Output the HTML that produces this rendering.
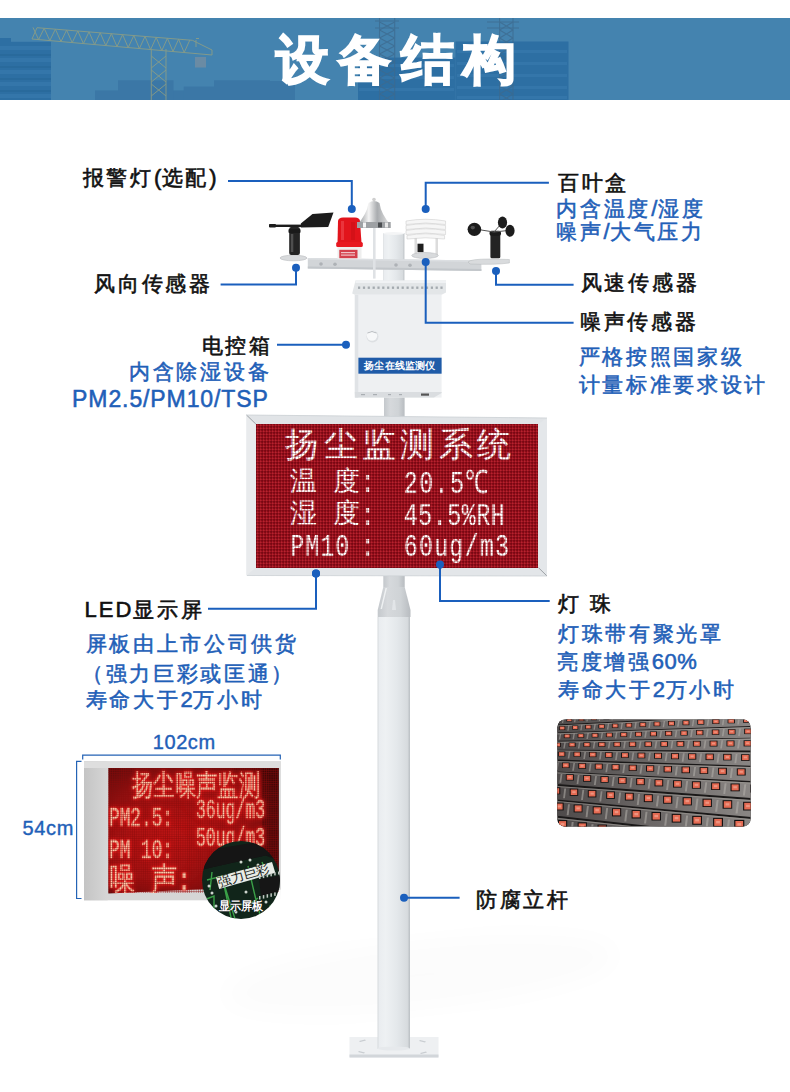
<!DOCTYPE html>
<html><head><meta charset="utf-8">
<style>
html,body{margin:0;padding:0;background:#fff;}
body{width:790px;height:1092px;position:relative;overflow:hidden;font-family:"Liberation Sans",sans-serif;}
.t{position:absolute;white-space:nowrap;font-size:21px;letter-spacing:2.7px;line-height:28px;color:#111;-webkit-text-stroke:0.6px #111;}
.t.b{color:#1f60b8;-webkit-text-stroke:0.55px #1f60b8;}
.t .p{font-size:22px;letter-spacing:0.5px;}
svg.main{position:absolute;left:0;top:0;}
.led{position:absolute;white-space:nowrap;color:#fff2f2;font-family:"Liberation Mono",monospace;}
.led{color:#fff;text-shadow:0 0 1.2px rgba(255,120,120,0.8);}
.led.cj{font-size:27px;line-height:30px;}
.led.mo{font-size:23.3px;line-height:30px;white-space:pre;transform:scaleY(1.38);transform-origin:0 50%;}

</style></head>
<body>
<svg class="main" width="790" height="1092" viewBox="0 0 790 1092">
<defs>
<linearGradient id="poleG" x1="0" x2="1" y1="0" y2="0">
 <stop offset="0" stop-color="#d6dadd"/><stop offset="0.06" stop-color="#eaedf0"/>
 <stop offset="0.25" stop-color="#eef1f3"/><stop offset="0.6" stop-color="#e4e8eb"/>
 <stop offset="0.92" stop-color="#d7dbde"/><stop offset="1" stop-color="#b9bec2"/></linearGradient>
<linearGradient id="poleD" x1="0" x2="1">
 <stop offset="0" stop-color="#c4c8cc"/><stop offset="0.3" stop-color="#d6d9dc"/><stop offset="0.7" stop-color="#cfd3d6"/><stop offset="1" stop-color="#b8bcc0"/></linearGradient>
<linearGradient id="silver" x1="0" x2="1">
 <stop offset="0" stop-color="#8a8d90"/><stop offset="0.35" stop-color="#f4f4f4"/>
 <stop offset="0.6" stop-color="#a9acaf"/><stop offset="1" stop-color="#e8e8e8"/></linearGradient>
<linearGradient id="bannerG" x1="0" x2="1">
 <stop offset="0" stop-color="#4682b3"/><stop offset="1" stop-color="#4b87b7"/></linearGradient>
<linearGradient id="macroG" x1="0" x2="1">
 <stop offset="0" stop-color="#4e4a4a"/><stop offset="1" stop-color="#8a8684"/></linearGradient>
<radialGradient id="smallRed" cx="0.4" cy="0.5" r="0.7">
 <stop offset="0" stop-color="#b81414"/><stop offset="0.6" stop-color="#901010"/><stop offset="1" stop-color="#4a0808"/></radialGradient>
<linearGradient id="sideG" x1="0" x2="1">
 <stop offset="0" stop-color="#c4c4c4"/><stop offset="1" stop-color="#d6d6d6"/></linearGradient>
<pattern id="gridS" width="2.2" height="2.2" patternUnits="userSpaceOnUse"><rect width="2.2" height="0.7" fill="#8a0a0a" opacity="0.5"/><rect width="0.7" height="2.2" fill="#8a0a0a" opacity="0.5"/></pattern>
<filter id="blur4"><feGaussianBlur stdDeviation="14"/></filter>
<clipPath id="clipM"><rect x="557.3" y="719.4" width="193.4" height="107.2" rx="8"/></clipPath>
<clipPath id="clipS"><rect x="108.4" y="768" width="170.5" height="125"/></clipPath>
<clipPath id="clipC"><circle cx="241" cy="880" r="39"/></clipPath>
</defs>
<clipPath id="clipB"><rect x="0" y="18" width="790" height="82"/></clipPath>
<g clip-path="url(#clipB)">
<rect x="0" y="18" width="790" height="82" fill="#4483af"/>
<g fill="#3b77a6">
<rect x="95" y="90.4" width="195" height="9.6"/>
<rect x="118" y="80.3" width="55.5" height="20"/>
<rect x="183.7" y="86.6" width="33" height="14"/>
<rect x="214" y="80.3" width="56" height="20"/>
<rect x="250" y="81" width="45" height="19"/>
</g>
<g fill="#2d6fa3">
<rect x="0" y="41.8" width="51" height="58.2"/>
<rect x="0" y="38" width="11" height="4"/>
<rect x="358" y="57.6" width="97.5" height="42.4"/>
<rect x="455.5" y="41.5" width="113" height="58.5"/>
</g>
<g fill="#3a7bb0" opacity="0.6">
<rect x="0" y="46" width="51" height="4"/>
<rect x="0" y="58" width="51" height="4"/>
<rect x="0" y="70" width="51" height="4"/>
<rect x="0" y="82" width="51" height="4"/>
<rect x="0" y="94" width="51" height="4"/>
<rect x="457" y="50" width="110" height="3"/>
<rect x="457" y="62" width="110" height="3"/>
<rect x="457" y="74" width="110" height="3"/>
<rect x="457" y="86" width="110" height="3"/>
<rect x="457" y="96" width="110" height="3"/>
<rect x="359" y="64" width="95" height="3"/>
<rect x="359" y="76" width="95" height="3"/>
<rect x="359" y="88" width="95" height="3"/>
</g>
<g fill="#2766999a">
<rect x="0" y="54" width="51" height="2"/>
<rect x="0" y="66" width="51" height="2"/>
<rect x="0" y="78" width="51" height="2"/>
<rect x="0" y="90" width="51" height="2"/>
</g>
<g stroke="#98a27e" stroke-width="1" fill="none" opacity="0.75">
<path d="M37 27.7 L192.4 40.3 L212 50 M32 39 L212 55 M37 27.7 L32 39 M212 50 L212 55"/>
<path d="M33.0 27.4 L38.6 39.6 L44.2 28.3 L49.8 40.6 L55.4 29.2 L61.0 41.6 L66.6 30.1 L72.2 42.6 L77.8 31.0 L83.4 43.6 L89.0 31.9 L94.6 44.6 L100.2 32.8 L105.8 45.6 L111.4 33.7 L117.0 46.6 L122.6 34.6 L128.2 47.6 L133.8 35.5 L139.4 48.6 L145.0 36.4 L150.6 49.6 L156.2 37.4 L161.8 50.6 L167.4 38.3 L173.0 51.5 L178.6 39.2 L184.2 52.5 L189.8 40.1"/>
<path d="M151.3 49 V100 M166 49 V100 M151.3 56 L166 68 M166 56 L151.3 68 M151.3 70 L166 82 M166 70 L151.3 82 M151.3 84 L166 96 M166 84 L151.3 96"/>
<path d="M196 40 V47 M196 38.5 H199"/>
</g>
<rect x="195" y="57" width="11" height="10.5" fill="#6f8ca3" opacity="0.9"/>
<g stroke="#3d6a8e" stroke-width="1.1" fill="none" opacity="0.75">
<path d="M379.5 18 V100 M394.7 18 V100"/>
<path d="M379.5 22 L394.7 30 M394.7 22 L379.5 30"/>
<path d="M379.5 30 L394.7 38 M394.7 30 L379.5 38"/>
<path d="M379.5 38 L394.7 46 M394.7 38 L379.5 46"/>
<path d="M379.5 46 L394.7 54 M394.7 46 L379.5 54"/>
<path d="M379.5 54 L394.7 62 M394.7 54 L379.5 62"/>
<path d="M379.5 62 L394.7 70 M394.7 62 L379.5 70"/>
<path d="M379.5 70 L394.7 78 M394.7 70 L379.5 78"/>
<path d="M379.5 78 L394.7 86 M394.7 78 L379.5 86"/>
<path d="M379.5 86 L394.7 94 M394.7 86 L379.5 94"/>
<path d="M379.5 94 L394.7 102 M394.7 94 L379.5 102"/>
<path d="M499.6 18 V100 M513 18 V100"/>
<path d="M499.6 22 L513 30 M513 22 L499.6 30"/>
<path d="M499.6 30 L513 38 M513 30 L499.6 38"/>
<path d="M499.6 38 L513 46 M513 38 L499.6 46"/>
<path d="M499.6 46 L513 54 M513 46 L499.6 54"/>
<path d="M499.6 54 L513 62 M513 54 L499.6 62"/>
<path d="M499.6 62 L513 70 M513 62 L499.6 70"/>
<path d="M499.6 70 L513 78 M513 70 L499.6 78"/>
<path d="M499.6 78 L513 86 M513 78 L499.6 86"/>
<path d="M499.6 86 L513 94 M513 86 L499.6 94"/>
<path d="M499.6 94 L513 102 M513 94 L499.6 102"/>
<path d="M375 21 H399 M375 28 H399 M487 22 H519 M487 28 H519"/>
</g>
</g>
<ellipse cx="420" cy="975" rx="200" ry="35" fill="#000" opacity="0.012" filter="url(#blur4)" transform="rotate(-6 420 975)"/>
<rect x="349.5" y="1037" width="89" height="20.5" fill="#eef0f2"/>
<rect x="349.5" y="1054.5" width="89" height="3" fill="#d2d6da"/>
<g fill="#c9cdd1"><path d="M359 1041 l6 -1.5 l1 1 l-6 1.5z M420 1040 l6 1.5 l-1 1 l-6 -1.5z M359 1051 l6 1.5 l-1 1 l-6 -1.5z M420 1053 l6 -1.5 l1 1 l-6 1.5z"/></g>
<rect x="377.5" y="617" width="32.5" height="432" fill="url(#poleG)"/>
<ellipse cx="393.7" cy="1048.5" rx="16.2" ry="2" fill="#e6e9ec"/>
<rect x="377.7" y="610" width="32.8" height="7" fill="url(#poleD)"/>
<polygon points="383.3,587 404.7,587 410.5,610 377.7,610" fill="url(#poleD)"/>
<polygon points="385.5,588 387,588 382,609 380.5,609" fill="#f2f4f5" opacity="0.9"/>
<polygon points="393,600 395,600 396,610 392,610" fill="#e6e9eb" opacity="0.8"/>
<rect x="383.3" y="576" width="21.4" height="11" fill="url(#poleD)"/>
<rect x="384" y="397" width="20.6" height="20" fill="url(#poleD)"/>
<rect x="383.2" y="233" width="21.2" height="48" fill="url(#poleG)"/>
<ellipse cx="393.8" cy="233.5" rx="10.6" ry="1.5" fill="#f4f5f6"/>
<polygon points="307.8,258 481.4,260.5 481.4,271 307.8,268.6" fill="#d2d5d8"/>
<polygon points="307.8,258 481.4,260.5 481.4,262 307.8,259.5" fill="#dcdfe2"/>
<polygon points="307.8,266.5 481.4,269 481.4,271 307.8,268.6" fill="#c2c6ca"/>
<circle cx="321" cy="264" r="1.8" fill="#aeb2b6"/><circle cx="335" cy="264.2" r="1.8" fill="#aeb2b6"/>
<circle cx="396" cy="265" r="1.8" fill="#aeb2b6"/><circle cx="410" cy="265.3" r="1.8" fill="#aeb2b6"/>
<ellipse cx="293.5" cy="258" rx="13.5" ry="2.8" fill="#d9dbdd" stroke="#b8bbbe" stroke-width="0.6"/>
<rect x="289.2" y="227" width="10.7" height="28" rx="2" fill="#242424"/>
<rect x="288.5" y="229" width="12" height="4" rx="1" fill="#1a1a1a"/>
<rect x="290.8" y="234" width="2.5" height="18" fill="#4e4e4e"/>
<rect x="269" y="224.6" width="33" height="2.4" fill="#1c1c1c"/>
<rect x="269" y="223.9" width="7" height="3.6" rx="1" fill="#1c1c1c"/>
<polygon points="300.8,223.4 312.5,214 333.5,212.6 328.2,227 300.8,227.5" fill="#1c1c1c"/>
<rect x="337.5" y="246.5" width="24" height="12.5" fill="#eeeeee"/>
<rect x="339.3" y="249.8" width="18.2" height="8.4" fill="#d4404c"/>
<rect x="341" y="252" width="14" height="1.2" fill="#f0c0c4"/><rect x="341" y="254.5" width="14" height="1.2" fill="#f0c0c4"/>
<path d="M337.5 243 L338 221 Q338.5 217.5 343 217.5 L355 217.5 Q359.5 217.5 360 221 L361.5 243 Z" fill="#e2141c"/>
<rect x="336.2" y="242" width="26.6" height="5" rx="1.5" fill="#e81820"/>
<rect x="341" y="221" width="3" height="19" fill="#f04a52" opacity="0.6"/>
<rect x="351" y="222" width="4" height="18" fill="#c00c14" opacity="0.4"/>
<rect x="373" y="226" width="2.6" height="52.6" fill="#dfe2e5"/>
<circle cx="374" cy="199.5" r="1.8" fill="#cfcfcf"/>
<path d="M368.5 203 Q374 199 379.5 203 Q381 214 390.7 225 L390.7 228 L357 228 L357 225 Q367 214 368.5 203 Z" fill="url(#silver)"/>
<rect x="357" y="222" width="33.7" height="6" fill="#9ea1a4"/>
<rect x="363" y="222.5" width="3" height="5" fill="#f5f5f5"/><rect x="378" y="222.5" width="4" height="5" fill="#4a4d50"/><rect x="385" y="222.5" width="3" height="5" fill="#e8e8e8"/>
<rect x="414.5" y="238" width="2.5" height="18" fill="#dcdcdc"/>
<rect x="435.5" y="238" width="2.5" height="18" fill="#dcdcdc"/>
<rect x="417.5" y="243.7" width="6" height="8.5" fill="#1e1e1e"/>
<ellipse cx="425" cy="255.5" rx="13.3" ry="3" fill="#d8dadc" stroke="#b0b3b6" stroke-width="0.5"/>
<g fill="#f6f6f6" stroke="#cfcfcf" stroke-width="0.6">
<path d="M406 221 Q425.8 217.5 445.6 221 L445.6 224.5 Q425.8 221.5 406 224.5 Z"/>
<path d="M406 225.5 Q425.8 222 445.6 225.5 L445.6 229.5 Q425.8 226.5 406 229.5 Z"/>
<path d="M406 230.5 Q425.8 227 445.6 230.5 L445.6 234.5 Q425.8 231.5 406 234.5 Z"/>
<path d="M407 235.5 Q425.8 232 444.6 235.5 L444.6 239 Q425.8 236.5 407 239 Z"/>
</g>
<path d="M468 262 Q470 259 490 259 L509.4 259.5 L509.4 263 Q495 265 470 264 Z" fill="#d9dbdd" stroke="#b5b8bb" stroke-width="0.5"/>
<rect x="490.4" y="232" width="9.9" height="26.2" rx="1.5" fill="#232323"/>
<rect x="489.5" y="230.8" width="11.5" height="5" rx="2" fill="#1a1a1a"/>
<path d="M478 229.5 L494 232 L501 224 M494 232 L508 230.5" stroke="#555" stroke-width="1" fill="none"/>
<ellipse cx="474.4" cy="229.3" rx="6.8" ry="6.6" fill="#1c1c1c"/>
<ellipse cx="472.8" cy="227.6" rx="2.2" ry="1.8" fill="#505050"/>
<ellipse cx="502.5" cy="222.5" rx="4.6" ry="6" fill="#1c1c1c"/>
<ellipse cx="510" cy="230.8" rx="4.6" ry="6" fill="#1c1c1c"/>
<rect x="354.8" y="294.8" width="86.8" height="102.8" fill="#eef0f2"/>
<rect x="354.8" y="294.8" width="3.5" height="102.8" fill="#e0e3e6"/>
<polygon points="354.8,392 441.6,392 441.6,393 434,397.6 355.2,397.6" fill="#dadde0"/>
<g fill="#a9aeb2"><rect x="361" y="394" width="4" height="1.2"/><rect x="373" y="394" width="4" height="1.2"/><rect x="388" y="394" width="3" height="1.2"/><rect x="399" y="394" width="3" height="1.2"/><rect x="421" y="393.5" width="8" height="2.2" fill="#555"/></g>
<polygon points="355.5,280.6 446,280.6 446,292.5 441.6,294.8 354.8,294.8 352.2,293.5" fill="#e3e6e8"/>
<polygon points="355.5,280.6 446,280.6 446,283 355.5,283" fill="#f0f2f4"/>
<g fill="#a4aaaf">
<rect x="358.0" y="286.5" width="2.2" height="2.4" />
<rect x="362.9" y="286.5" width="2.2" height="2.4" />
<rect x="367.7" y="286.5" width="2.2" height="2.4" />
<rect x="372.6" y="286.5" width="2.2" height="2.4" />
<rect x="377.4" y="286.5" width="2.2" height="2.4" />
<rect x="382.2" y="286.5" width="2.2" height="2.4" />
<rect x="387.1" y="286.5" width="2.2" height="2.4" />
<rect x="391.9" y="286.5" width="2.2" height="2.4" />
<rect x="396.8" y="286.5" width="2.2" height="2.4" />
<rect x="401.6" y="286.5" width="2.2" height="2.4" />
<rect x="406.5" y="286.5" width="2.2" height="2.4" />
<rect x="411.4" y="286.5" width="2.2" height="2.4" />
<rect x="416.2" y="286.5" width="2.2" height="2.4" />
<rect x="421.1" y="286.5" width="2.2" height="2.4" />
<rect x="425.9" y="286.5" width="2.2" height="2.4" />
<rect x="430.8" y="286.5" width="2.2" height="2.4" />
<rect x="435.6" y="286.5" width="2.2" height="2.4" />
<rect x="440.4" y="286.5" width="2.2" height="2.4" />
</g>
<circle cx="372.5" cy="336.5" r="6" fill="#dde0e3"/><circle cx="372" cy="335.6" r="5.2" fill="#f7f8f9"/><path d="M367.5 333 Q372 330 376.5 333" stroke="#b8bcc0" stroke-width="1" fill="none"/>
<rect x="358.4" y="357.7" width="83.2" height="16" fill="#1f5ba8"/>
<polygon points="246.5,415 547,418 547,576 246.5,575.5" fill="#e3e6e9"/>
<polygon points="246.5,415 547,418 538.5,424 255.8,424" fill="#e1e4e7"/>
<polygon points="246.5,415 255.8,424 255.8,567.7 246.5,575.5" fill="#e9ebed"/>
<polygon points="538.5,424 547,418 547,576 538.5,567.7" fill="#e4e7ea"/>
<path d="M246.5 415 L255.8 424 M538.5 567.7 L547 576" stroke="#8a8f94" stroke-width="0.8"/>
<path d="M246.5 415 L547 418 M247 575.5 L547 576" stroke="#ccd0d4" stroke-width="0.8"/>
<rect x="84" y="761.3" width="196.8" height="139" fill="#d5d5d5"/>
<rect x="84" y="761.3" width="23.7" height="139" fill="url(#sideG)"/>
<rect x="84" y="761.3" width="196.8" height="6.7" fill="#dedede"/>
<polygon points="280.8,889.5 281,901 250,901" fill="#ffffff"/>
<polygon points="108.4,768 278.8,768 278.8,885.7 108.4,893.6" fill="url(#smallRed)"/>
<g clip-path="url(#clipS)">
<ellipse cx="150" cy="850" rx="50" ry="40" fill="#d01818" opacity="0.35" filter="url(#blur4)"/>
<ellipse cx="230" cy="800" rx="40" ry="25" fill="#d01818" opacity="0.3" filter="url(#blur4)"/>
<rect x="262" y="768" width="17" height="120" fill="#300606" opacity="0.5"/>
<g font-family="Liberation Mono, monospace" fill="#ffd0b0" stroke="#ffb090" stroke-width="0.4" style="filter:drop-shadow(0 0 0.8px #ff3030) drop-shadow(0 0 2px #ff1a1a)">
<text x="0" y="0" font-size="23" textLength="128" lengthAdjust="spacingAndGlyphs" transform="translate(132,794.5) scale(1,1.28)">扬尘噪声监测</text>
<text x="0" y="0" font-size="19" textLength="64" lengthAdjust="spacingAndGlyphs" transform="translate(109,826) scale(1,1.5)">PM2.5:</text>
<text x="0" y="0" font-size="19" textLength="69" lengthAdjust="spacingAndGlyphs" transform="translate(196,818) scale(1,1.5)">36ug/m3</text>
<text x="0" y="0" font-size="19" textLength="64" lengthAdjust="spacingAndGlyphs" transform="translate(109,858) scale(1,1.5)">PM 10:</text>
<text x="0" y="0" font-size="19" textLength="69" lengthAdjust="spacingAndGlyphs" transform="translate(196,846) scale(1,1.5)">50ug/m3</text>
<text x="0" y="0" font-size="26" transform="translate(109,890) scale(1,1.22)">噪 声:</text>
</g>
<rect x="108" y="768" width="172" height="126" fill="url(#gridS)"/>
</g>
<g clip-path="url(#clipC)">
<rect x="200" y="840" width="82" height="82" fill="#11251a"/>
<g stroke="#3fae4c" stroke-width="1.4" fill="none" opacity="0.9">
<path d="M204 900 L214 896 L214 922 M207 880 L222 876 L232 922 M248 866 L256 900 L262 922 M262 862 L268 876 M232 905 L250 904 L258 898 M270 905 L276 922 M224 884 L236 922 M212 872 L210 890"/>
</g>
<polygon points="206.7,851 263,849 276.3,859.8 265.5,855.4 202.4,869.5 200,870 200,852" fill="#141414"/>
<polygon points="196,852 283,838 283,856 265.5,855.4 202.4,869.5 196,871" fill="#151515"/>
<g fill="#cfd6cf">
<circle cx="209" cy="886" r="1.5"/>
<circle cx="212" cy="893" r="1.5"/>
<circle cx="224" cy="901" r="1.5"/>
<circle cx="258" cy="865" r="1.5"/>
<circle cx="263" cy="870" r="1.5"/>
<circle cx="236" cy="912" r="1.5"/>
<circle cx="216" cy="906" r="1.5"/>
<circle cx="241" cy="862" r="1.5"/>
<circle cx="250" cy="860" r="1.5"/>
<circle cx="266" cy="902" r="1.5"/>
<circle cx="246" cy="892" r="1.5"/>
</g>
<polygon points="216,877.2 272,862 275.3,872.8 219.2,889.1" fill="#e8ece6"/>
<text x="0" y="0" font-size="13" fill="#1a241a" font-family="Liberation Sans, sans-serif" transform="translate(219,886.5) rotate(-15.5) scale(1.05,1)">强力巨彩</text>
<polygon points="259,879.3 282,875 282,891 261,896" fill="#161616"/>
<g fill="#c4c9c4">
<rect x="259.0" y="896.0" width="1.5" height="3.5"/>
<rect x="259.0" y="876.0" width="1.5" height="3"/>
<rect x="262.8" y="895.1" width="1.5" height="3.5"/>
<rect x="262.8" y="875.1" width="1.5" height="3"/>
<rect x="266.6" y="894.2" width="1.5" height="3.5"/>
<rect x="266.6" y="874.2" width="1.5" height="3"/>
<rect x="270.4" y="893.3" width="1.5" height="3.5"/>
<rect x="270.4" y="873.3" width="1.5" height="3"/>
<rect x="274.2" y="892.4" width="1.5" height="3.5"/>
<rect x="274.2" y="872.4" width="1.5" height="3"/>
<rect x="278.0" y="891.5" width="1.5" height="3.5"/>
<rect x="278.0" y="871.5" width="1.5" height="3"/>
</g>
<text x="218.7" y="910.4" font-size="11.5" font-weight="bold" fill="#ffffff" stroke="#0a0a0a" stroke-width="0.6" paint-order="stroke" font-family="Liberation Sans, sans-serif" textLength="44.6" lengthAdjust="spacingAndGlyphs">显示屏板</text>
</g>
<g stroke="#2463b5" stroke-width="1.2" fill="none">
<path d="M82.7 759.5 V755.2 H280.3 V759.5"/>
<path d="M81.5 761.3 H76.6 V898.5 H81.5"/>
</g>
<g clip-path="url(#clipM)">
<rect x="557" y="719" width="194" height="108" fill="#1a1818"/>
<polygon points="557,717.6 751,704.4 751,714.9 557,724.6" fill="url(#macroG)"/>
<polygon points="557,717.6 751,704.4 751,705.6 557,718.8" fill="#a09c98" opacity="0.6"/>
<rect x="554.5" y="718.6" width="5.6" height="3.6" fill="#141010"/>
<rect x="555.1" y="719.0" width="4.3" height="2.8" fill="#e46a52"/>
<rect x="556.2" y="719.8" width="2.2" height="1.0" fill="#f4b0a0" opacity="0.6"/>
<polygon points="550.9,718.5 552.1,718.5 551.3,723.5 550.1,723.5" fill="#b4b0ac" opacity="0.55"/>
<rect x="566.4" y="717.8" width="5.7" height="3.7" fill="#141010"/>
<rect x="567.1" y="718.2" width="4.4" height="2.9" fill="#e46a52"/>
<rect x="568.2" y="719.1" width="2.2" height="1.0" fill="#f4b0a0" opacity="0.6"/>
<polygon points="562.8,717.7 564.0,717.7 563.2,722.9 562.0,722.9" fill="#b4b0ac" opacity="0.55"/>
<rect x="578.6" y="717.0" width="5.8" height="3.9" fill="#141010"/>
<rect x="579.2" y="717.5" width="4.4" height="3.0" fill="#e46a52"/>
<rect x="580.3" y="718.3" width="2.2" height="1.0" fill="#f4b0a0" opacity="0.6"/>
<polygon points="574.9,716.9 576.1,716.9 575.3,722.2 574.0,722.2" fill="#b4b0ac" opacity="0.55"/>
<rect x="590.9" y="716.2" width="5.9" height="4.0" fill="#141010"/>
<rect x="591.6" y="716.7" width="4.5" height="3.1" fill="#e46a52"/>
<rect x="592.7" y="717.6" width="2.3" height="1.1" fill="#f4b0a0" opacity="0.6"/>
<polygon points="587.2,716.1 588.4,716.1 587.6,721.6 586.3,721.6" fill="#b4b0ac" opacity="0.55"/>
<rect x="603.4" y="715.4" width="6.0" height="4.1" fill="#141010"/>
<rect x="604.1" y="715.9" width="4.6" height="3.1" fill="#e46a52"/>
<rect x="605.3" y="716.8" width="2.3" height="1.1" fill="#f4b0a0" opacity="0.6"/>
<polygon points="599.6,715.2 600.9,715.2 600.0,720.9 598.8,720.9" fill="#b4b0ac" opacity="0.55"/>
<rect x="616.1" y="714.6" width="6.0" height="4.2" fill="#141010"/>
<rect x="616.8" y="715.0" width="4.7" height="3.2" fill="#e46a52"/>
<rect x="618.0" y="716.0" width="2.3" height="1.1" fill="#f4b0a0" opacity="0.6"/>
<polygon points="612.3,714.4 613.6,714.4 612.7,720.2 611.4,720.2" fill="#b4b0ac" opacity="0.55"/>
<rect x="629.0" y="713.7" width="6.1" height="4.3" fill="#141010"/>
<rect x="629.8" y="714.2" width="4.7" height="3.3" fill="#e46a52"/>
<rect x="630.9" y="715.2" width="2.4" height="1.2" fill="#f4b0a0" opacity="0.6"/>
<polygon points="625.2,713.6 626.5,713.6 625.6,719.6 624.2,719.6" fill="#b4b0ac" opacity="0.55"/>
<rect x="642.2" y="712.9" width="6.2" height="4.4" fill="#141010"/>
<rect x="642.9" y="713.4" width="4.8" height="3.4" fill="#e46a52"/>
<rect x="644.1" y="714.4" width="2.4" height="1.2" fill="#f4b0a0" opacity="0.6"/>
<polygon points="638.2,712.7 639.6,712.7 638.6,718.9 637.3,718.9" fill="#b4b0ac" opacity="0.55"/>
<rect x="655.5" y="712.0" width="6.3" height="4.6" fill="#141010"/>
<rect x="656.2" y="712.5" width="4.9" height="3.5" fill="#e46a52"/>
<rect x="657.4" y="713.6" width="2.4" height="1.2" fill="#f4b0a0" opacity="0.6"/>
<polygon points="651.5,711.8 652.8,711.8 651.9,718.2 650.5,718.2" fill="#b4b0ac" opacity="0.55"/>
<rect x="669.0" y="711.1" width="6.4" height="4.7" fill="#141010"/>
<rect x="669.7" y="711.6" width="4.9" height="3.6" fill="#e46a52"/>
<rect x="671.0" y="712.7" width="2.5" height="1.3" fill="#f4b0a0" opacity="0.6"/>
<polygon points="664.9,710.9 666.3,710.9 665.3,717.4 664.0,717.4" fill="#b4b0ac" opacity="0.55"/>
<rect x="682.7" y="710.2" width="6.5" height="4.8" fill="#141010"/>
<rect x="683.5" y="710.8" width="5.0" height="3.7" fill="#e46a52"/>
<rect x="684.7" y="711.9" width="2.5" height="1.3" fill="#f4b0a0" opacity="0.6"/>
<polygon points="678.6,710.0 680.0,710.0 679.0,716.7 677.6,716.7" fill="#b4b0ac" opacity="0.55"/>
<rect x="696.7" y="709.3" width="6.6" height="4.9" fill="#141010"/>
<rect x="697.4" y="709.9" width="5.1" height="3.8" fill="#e46a52"/>
<rect x="698.7" y="711.0" width="2.6" height="1.3" fill="#f4b0a0" opacity="0.6"/>
<polygon points="692.5,709.1 693.9,709.1 692.9,716.0 691.5,716.0" fill="#b4b0ac" opacity="0.55"/>
<rect x="710.8" y="708.4" width="6.7" height="5.1" fill="#141010"/>
<rect x="711.6" y="709.0" width="5.2" height="3.9" fill="#e46a52"/>
<rect x="712.9" y="710.1" width="2.6" height="1.4" fill="#f4b0a0" opacity="0.6"/>
<polygon points="706.6,708.2 708.0,708.2 707.0,715.2 705.6,715.2" fill="#b4b0ac" opacity="0.55"/>
<rect x="725.2" y="707.4" width="6.8" height="5.2" fill="#141010"/>
<rect x="726.0" y="708.0" width="5.3" height="4.0" fill="#e46a52"/>
<rect x="727.3" y="709.2" width="2.6" height="1.4" fill="#f4b0a0" opacity="0.6"/>
<polygon points="720.9,707.2 722.4,707.2 721.3,714.5 719.9,714.5" fill="#b4b0ac" opacity="0.55"/>
<rect x="739.8" y="706.5" width="6.9" height="5.3" fill="#141010"/>
<rect x="740.6" y="707.1" width="5.3" height="4.1" fill="#e46a52"/>
<rect x="742.0" y="708.3" width="2.7" height="1.4" fill="#f4b0a0" opacity="0.6"/>
<polygon points="735.4,706.3 736.9,706.3 735.9,713.7 734.4,713.7" fill="#b4b0ac" opacity="0.55"/>
<polygon points="557,725.4 751,715.9 751,726.1 557,732.5" fill="url(#macroG)"/>
<polygon points="557,725.4 751,715.9 751,717.1 557,726.6" fill="#a09c98" opacity="0.6"/>
<rect x="559.2" y="726.2" width="6.0" height="3.8" fill="#141010"/>
<rect x="559.9" y="726.6" width="4.6" height="2.9" fill="#e46a52"/>
<rect x="561.1" y="727.5" width="2.3" height="1.0" fill="#f4b0a0" opacity="0.6"/>
<polygon points="555.4,726.0 556.7,726.0 555.8,731.2 554.5,731.2" fill="#b4b0ac" opacity="0.55"/>
<rect x="572.1" y="725.6" width="6.1" height="3.9" fill="#141010"/>
<rect x="572.8" y="726.0" width="4.7" height="3.0" fill="#e46a52"/>
<rect x="574.0" y="726.9" width="2.4" height="1.0" fill="#f4b0a0" opacity="0.6"/>
<polygon points="568.2,725.4 569.5,725.4 568.6,730.8 567.3,730.8" fill="#b4b0ac" opacity="0.55"/>
<rect x="585.2" y="724.9" width="6.2" height="4.0" fill="#141010"/>
<rect x="585.9" y="725.4" width="4.8" height="3.1" fill="#e46a52"/>
<rect x="587.1" y="726.3" width="2.4" height="1.1" fill="#f4b0a0" opacity="0.6"/>
<polygon points="581.2,724.8 582.5,724.8 581.6,730.3 580.3,730.3" fill="#b4b0ac" opacity="0.55"/>
<rect x="598.4" y="724.3" width="6.3" height="4.1" fill="#141010"/>
<rect x="599.2" y="724.8" width="4.9" height="3.1" fill="#e46a52"/>
<rect x="600.4" y="725.7" width="2.4" height="1.1" fill="#f4b0a0" opacity="0.6"/>
<polygon points="594.4,724.2 595.8,724.2 594.8,729.8 593.5,729.8" fill="#b4b0ac" opacity="0.55"/>
<rect x="611.9" y="723.7" width="6.4" height="4.2" fill="#141010"/>
<rect x="612.7" y="724.2" width="4.9" height="3.2" fill="#e46a52"/>
<rect x="613.9" y="725.1" width="2.5" height="1.1" fill="#f4b0a0" opacity="0.6"/>
<polygon points="607.9,723.5 609.2,723.5 608.3,729.4 606.9,729.4" fill="#b4b0ac" opacity="0.55"/>
<rect x="625.6" y="723.0" width="6.5" height="4.3" fill="#141010"/>
<rect x="626.4" y="723.5" width="5.0" height="3.3" fill="#e46a52"/>
<rect x="627.6" y="724.5" width="2.5" height="1.2" fill="#f4b0a0" opacity="0.6"/>
<polygon points="621.5,722.9 622.9,722.9 621.9,728.9 620.5,728.9" fill="#b4b0ac" opacity="0.55"/>
<rect x="639.5" y="722.4" width="6.6" height="4.4" fill="#141010"/>
<rect x="640.3" y="722.9" width="5.1" height="3.4" fill="#e46a52"/>
<rect x="641.6" y="723.9" width="2.5" height="1.2" fill="#f4b0a0" opacity="0.6"/>
<polygon points="635.3,722.2 636.7,722.2 635.8,728.4 634.3,728.4" fill="#b4b0ac" opacity="0.55"/>
<rect x="653.6" y="721.7" width="6.7" height="4.5" fill="#141010"/>
<rect x="654.4" y="722.2" width="5.2" height="3.5" fill="#e46a52"/>
<rect x="655.7" y="723.3" width="2.6" height="1.2" fill="#f4b0a0" opacity="0.6"/>
<polygon points="649.4,721.6 650.8,721.6 649.8,727.9 648.4,727.9" fill="#b4b0ac" opacity="0.55"/>
<rect x="668.0" y="721.0" width="6.8" height="4.6" fill="#141010"/>
<rect x="668.8" y="721.6" width="5.2" height="3.6" fill="#e46a52"/>
<rect x="670.1" y="722.7" width="2.6" height="1.3" fill="#f4b0a0" opacity="0.6"/>
<polygon points="663.7,720.9 665.1,720.9 664.1,727.3 662.6,727.3" fill="#b4b0ac" opacity="0.55"/>
<rect x="682.5" y="720.4" width="6.9" height="4.8" fill="#141010"/>
<rect x="683.3" y="720.9" width="5.3" height="3.7" fill="#e46a52"/>
<rect x="684.7" y="722.0" width="2.7" height="1.3" fill="#f4b0a0" opacity="0.6"/>
<polygon points="678.2,720.2 679.6,720.2 678.6,726.8 677.1,726.8" fill="#b4b0ac" opacity="0.55"/>
<rect x="697.3" y="719.7" width="7.0" height="4.9" fill="#141010"/>
<rect x="698.1" y="720.2" width="5.4" height="3.8" fill="#e46a52"/>
<rect x="699.5" y="721.4" width="2.7" height="1.3" fill="#f4b0a0" opacity="0.6"/>
<polygon points="692.9,719.5 694.4,719.5 693.3,726.3 691.8,726.3" fill="#b4b0ac" opacity="0.55"/>
<rect x="712.3" y="719.0" width="7.1" height="5.0" fill="#141010"/>
<rect x="713.2" y="719.5" width="5.5" height="3.9" fill="#e46a52"/>
<rect x="714.5" y="720.7" width="2.7" height="1.3" fill="#f4b0a0" opacity="0.6"/>
<polygon points="707.8,718.8 709.3,718.8 708.3,725.7 706.8,725.7" fill="#b4b0ac" opacity="0.55"/>
<rect x="727.6" y="718.2" width="7.3" height="5.1" fill="#141010"/>
<rect x="728.4" y="718.8" width="5.6" height="4.0" fill="#e46a52"/>
<rect x="729.8" y="720.0" width="2.8" height="1.4" fill="#f4b0a0" opacity="0.6"/>
<polygon points="723.0,718.1 724.5,718.1 723.5,725.2 721.9,725.2" fill="#b4b0ac" opacity="0.55"/>
<rect x="743.1" y="717.5" width="7.4" height="5.3" fill="#141010"/>
<rect x="743.9" y="718.1" width="5.7" height="4.0" fill="#e46a52"/>
<rect x="745.3" y="719.3" width="2.8" height="1.4" fill="#f4b0a0" opacity="0.6"/>
<polygon points="738.4,717.3 740.0,717.3 738.9,724.6 737.3,724.6" fill="#b4b0ac" opacity="0.55"/>
<polygon points="557,733.3 751,727.1 751,737.7 557,740.8" fill="url(#macroG)"/>
<polygon points="557,733.3 751,727.1 751,728.3 557,734.5" fill="#a09c98" opacity="0.6"/>
<rect x="550.3" y="734.5" width="6.4" height="3.8" fill="#141010"/>
<rect x="551.0" y="734.9" width="4.9" height="3.0" fill="#e46a52"/>
<rect x="552.2" y="735.8" width="2.4" height="1.0" fill="#f4b0a0" opacity="0.6"/>
<polygon points="546.2,734.3 547.6,734.3 546.6,739.7 545.3,739.7" fill="#b4b0ac" opacity="0.55"/>
<rect x="563.8" y="734.1" width="6.5" height="4.0" fill="#141010"/>
<rect x="564.6" y="734.5" width="5.0" height="3.0" fill="#e46a52"/>
<rect x="565.8" y="735.4" width="2.5" height="1.1" fill="#f4b0a0" opacity="0.6"/>
<polygon points="559.8,733.9 561.1,733.9 560.2,739.4 558.8,739.4" fill="#b4b0ac" opacity="0.55"/>
<rect x="577.6" y="733.6" width="6.6" height="4.1" fill="#141010"/>
<rect x="578.4" y="734.1" width="5.0" height="3.1" fill="#e46a52"/>
<rect x="579.7" y="735.1" width="2.5" height="1.1" fill="#f4b0a0" opacity="0.6"/>
<polygon points="573.5,733.5 574.9,733.5 573.9,739.2 572.5,739.2" fill="#b4b0ac" opacity="0.55"/>
<rect x="591.7" y="733.2" width="6.7" height="4.2" fill="#141010"/>
<rect x="592.4" y="733.7" width="5.1" height="3.2" fill="#e46a52"/>
<rect x="593.7" y="734.7" width="2.6" height="1.1" fill="#f4b0a0" opacity="0.6"/>
<polygon points="587.4,733.1 588.9,733.1 587.9,738.9 586.4,738.9" fill="#b4b0ac" opacity="0.55"/>
<rect x="605.9" y="732.8" width="6.8" height="4.3" fill="#141010"/>
<rect x="606.7" y="733.3" width="5.2" height="3.3" fill="#e46a52"/>
<rect x="608.0" y="734.3" width="2.6" height="1.2" fill="#f4b0a0" opacity="0.6"/>
<polygon points="601.6,732.7 603.0,732.7 602.0,738.6 600.6,738.6" fill="#b4b0ac" opacity="0.55"/>
<rect x="620.3" y="732.4" width="6.9" height="4.4" fill="#141010"/>
<rect x="621.1" y="732.9" width="5.3" height="3.4" fill="#e46a52"/>
<rect x="622.4" y="733.9" width="2.6" height="1.2" fill="#f4b0a0" opacity="0.6"/>
<polygon points="616.0,732.2 617.4,732.2 616.4,738.4 614.9,738.4" fill="#b4b0ac" opacity="0.55"/>
<rect x="635.0" y="731.9" width="7.0" height="4.5" fill="#141010"/>
<rect x="635.8" y="732.5" width="5.4" height="3.5" fill="#e46a52"/>
<rect x="637.1" y="733.5" width="2.7" height="1.2" fill="#f4b0a0" opacity="0.6"/>
<polygon points="630.6,731.8 632.1,731.8 631.0,738.1 629.5,738.1" fill="#b4b0ac" opacity="0.55"/>
<rect x="649.9" y="731.5" width="7.1" height="4.7" fill="#141010"/>
<rect x="650.7" y="732.0" width="5.4" height="3.6" fill="#e46a52"/>
<rect x="652.1" y="733.1" width="2.7" height="1.3" fill="#f4b0a0" opacity="0.6"/>
<polygon points="645.4,731.3 646.9,731.3 645.9,737.8 644.3,737.8" fill="#b4b0ac" opacity="0.55"/>
<rect x="665.0" y="731.0" width="7.2" height="4.8" fill="#141010"/>
<rect x="665.8" y="731.6" width="5.5" height="3.7" fill="#e46a52"/>
<rect x="667.2" y="732.7" width="2.8" height="1.3" fill="#f4b0a0" opacity="0.6"/>
<polygon points="660.5,730.9 662.0,730.9 660.9,737.5 659.4,737.5" fill="#b4b0ac" opacity="0.55"/>
<rect x="680.4" y="730.6" width="7.3" height="4.9" fill="#141010"/>
<rect x="681.2" y="731.2" width="5.6" height="3.8" fill="#e46a52"/>
<rect x="682.6" y="732.3" width="2.8" height="1.3" fill="#f4b0a0" opacity="0.6"/>
<polygon points="675.7,730.4 677.3,730.4 676.2,737.2 674.7,737.2" fill="#b4b0ac" opacity="0.55"/>
<rect x="696.0" y="730.1" width="7.4" height="5.0" fill="#141010"/>
<rect x="696.8" y="730.7" width="5.7" height="3.9" fill="#e46a52"/>
<rect x="698.2" y="731.9" width="2.9" height="1.4" fill="#f4b0a0" opacity="0.6"/>
<polygon points="691.3,729.9 692.9,729.9 691.7,736.9 690.2,736.9" fill="#b4b0ac" opacity="0.55"/>
<rect x="711.8" y="729.6" width="7.5" height="5.2" fill="#141010"/>
<rect x="712.7" y="730.2" width="5.8" height="4.0" fill="#e46a52"/>
<rect x="714.1" y="731.4" width="2.9" height="1.4" fill="#f4b0a0" opacity="0.6"/>
<polygon points="707.0,729.5 708.6,729.5 707.5,736.7 705.9,736.7" fill="#b4b0ac" opacity="0.55"/>
<rect x="727.9" y="729.2" width="7.6" height="5.3" fill="#141010"/>
<rect x="728.8" y="729.8" width="5.9" height="4.1" fill="#e46a52"/>
<rect x="730.2" y="731.0" width="2.9" height="1.4" fill="#f4b0a0" opacity="0.6"/>
<polygon points="723.0,729.0 724.7,729.0 723.5,736.3 721.9,736.3" fill="#b4b0ac" opacity="0.55"/>
<rect x="744.2" y="728.7" width="7.8" height="5.4" fill="#141010"/>
<rect x="745.1" y="729.3" width="6.0" height="4.2" fill="#e46a52"/>
<rect x="746.6" y="730.6" width="3.0" height="1.5" fill="#f4b0a0" opacity="0.6"/>
<polygon points="739.3,728.5 741.0,728.5 739.8,736.0 738.1,736.0" fill="#b4b0ac" opacity="0.55"/>
<polygon points="557,741.7 751,738.6 751,750.6 557,749.7" fill="url(#macroG)"/>
<polygon points="557,741.7 751,738.6 751,739.8 557,742.9" fill="#a09c98" opacity="0.6"/>
<rect x="554.2" y="742.8" width="6.8" height="4.1" fill="#141010"/>
<rect x="554.9" y="743.2" width="5.2" height="3.2" fill="#e46a52"/>
<rect x="556.3" y="744.2" width="2.6" height="1.1" fill="#f4b0a0" opacity="0.6"/>
<polygon points="549.9,742.6 551.3,742.6 550.3,748.3 548.9,748.3" fill="#b4b0ac" opacity="0.55"/>
<rect x="568.7" y="742.6" width="6.9" height="4.3" fill="#141010"/>
<rect x="569.4" y="743.1" width="5.3" height="3.3" fill="#e46a52"/>
<rect x="570.8" y="744.0" width="2.7" height="1.2" fill="#f4b0a0" opacity="0.6"/>
<polygon points="564.3,742.4 565.8,742.4 564.7,748.4 563.3,748.4" fill="#b4b0ac" opacity="0.55"/>
<rect x="583.4" y="742.4" width="7.0" height="4.4" fill="#141010"/>
<rect x="584.2" y="742.9" width="5.4" height="3.4" fill="#e46a52"/>
<rect x="585.5" y="743.9" width="2.7" height="1.2" fill="#f4b0a0" opacity="0.6"/>
<polygon points="578.9,742.2 580.4,742.2 579.4,748.4 577.9,748.4" fill="#b4b0ac" opacity="0.55"/>
<rect x="598.3" y="742.2" width="7.1" height="4.6" fill="#141010"/>
<rect x="599.1" y="742.7" width="5.5" height="3.5" fill="#e46a52"/>
<rect x="600.5" y="743.8" width="2.7" height="1.2" fill="#f4b0a0" opacity="0.6"/>
<polygon points="593.8,742.0 595.3,742.0 594.3,748.4 592.8,748.4" fill="#b4b0ac" opacity="0.55"/>
<rect x="613.5" y="742.0" width="7.2" height="4.7" fill="#141010"/>
<rect x="614.3" y="742.5" width="5.6" height="3.7" fill="#e46a52"/>
<rect x="615.7" y="743.6" width="2.8" height="1.3" fill="#f4b0a0" opacity="0.6"/>
<polygon points="608.9,741.8 610.5,741.8 609.4,748.4 607.8,748.4" fill="#b4b0ac" opacity="0.55"/>
<rect x="628.9" y="741.8" width="7.3" height="4.9" fill="#141010"/>
<rect x="629.7" y="742.3" width="5.6" height="3.8" fill="#e46a52"/>
<rect x="631.1" y="743.5" width="2.8" height="1.3" fill="#f4b0a0" opacity="0.6"/>
<polygon points="624.3,741.6 625.8,741.6 624.7,748.4 623.2,748.4" fill="#b4b0ac" opacity="0.55"/>
<rect x="644.5" y="741.6" width="7.4" height="5.1" fill="#141010"/>
<rect x="645.4" y="742.2" width="5.7" height="3.9" fill="#e46a52"/>
<rect x="646.8" y="743.3" width="2.9" height="1.4" fill="#f4b0a0" opacity="0.6"/>
<polygon points="639.8,741.4 641.4,741.4 640.3,748.4 638.7,748.4" fill="#b4b0ac" opacity="0.55"/>
<rect x="660.4" y="741.4" width="7.6" height="5.2" fill="#141010"/>
<rect x="661.3" y="742.0" width="5.8" height="4.0" fill="#e46a52"/>
<rect x="662.7" y="743.2" width="2.9" height="1.4" fill="#f4b0a0" opacity="0.6"/>
<polygon points="655.6,741.2 657.3,741.2 656.1,748.5 654.5,748.5" fill="#b4b0ac" opacity="0.55"/>
<rect x="676.6" y="741.1" width="7.7" height="5.4" fill="#141010"/>
<rect x="677.4" y="741.8" width="5.9" height="4.2" fill="#e46a52"/>
<rect x="678.9" y="743.0" width="3.0" height="1.5" fill="#f4b0a0" opacity="0.6"/>
<polygon points="671.7,741.0 673.3,741.0 672.2,748.5 670.6,748.5" fill="#b4b0ac" opacity="0.55"/>
<rect x="692.9" y="740.9" width="7.8" height="5.6" fill="#141010"/>
<rect x="693.8" y="741.6" width="6.0" height="4.3" fill="#e46a52"/>
<rect x="695.3" y="742.9" width="3.0" height="1.5" fill="#f4b0a0" opacity="0.6"/>
<polygon points="688.0,740.7 689.7,740.7 688.5,748.5 686.8,748.5" fill="#b4b0ac" opacity="0.55"/>
<rect x="709.6" y="740.7" width="7.9" height="5.8" fill="#141010"/>
<rect x="710.5" y="741.4" width="6.1" height="4.4" fill="#e46a52"/>
<rect x="712.0" y="742.7" width="3.0" height="1.6" fill="#f4b0a0" opacity="0.6"/>
<polygon points="704.6,740.5 706.3,740.5 705.1,748.5 703.4,748.5" fill="#b4b0ac" opacity="0.55"/>
<rect x="726.5" y="740.5" width="8.0" height="5.9" fill="#141010"/>
<rect x="727.4" y="741.2" width="6.2" height="4.6" fill="#e46a52"/>
<rect x="728.9" y="742.5" width="3.1" height="1.6" fill="#f4b0a0" opacity="0.6"/>
<polygon points="721.4,740.3 723.1,740.3 721.9,748.5 720.2,748.5" fill="#b4b0ac" opacity="0.55"/>
<rect x="743.6" y="740.3" width="8.2" height="6.1" fill="#141010"/>
<rect x="744.6" y="741.0" width="6.3" height="4.7" fill="#e46a52"/>
<rect x="746.1" y="742.4" width="3.1" height="1.6" fill="#f4b0a0" opacity="0.6"/>
<polygon points="738.5,740.1 740.2,740.1 739.0,748.6 737.2,748.6" fill="#b4b0ac" opacity="0.55"/>
<polygon points="557,750.4 751,752.6 751,765.7 557,759.5" fill="url(#macroG)"/>
<polygon points="557,750.4 751,752.6 751,753.8 557,751.6" fill="#a09c98" opacity="0.6"/>
<rect x="558.1" y="751.6" width="7.2" height="4.8" fill="#141010"/>
<rect x="558.9" y="752.2" width="5.5" height="3.7" fill="#e46a52"/>
<rect x="560.3" y="753.3" width="2.8" height="1.3" fill="#f4b0a0" opacity="0.6"/>
<polygon points="553.5,751.4 555.0,751.4 554.0,758.1 552.4,758.1" fill="#b4b0ac" opacity="0.55"/>
<rect x="573.5" y="751.8" width="7.3" height="4.9" fill="#141010"/>
<rect x="574.3" y="752.4" width="5.6" height="3.8" fill="#e46a52"/>
<rect x="575.7" y="753.5" width="2.8" height="1.3" fill="#f4b0a0" opacity="0.6"/>
<polygon points="568.8,751.6 570.4,751.6 569.3,758.5 567.7,758.5" fill="#b4b0ac" opacity="0.55"/>
<rect x="589.1" y="752.0" width="7.4" height="5.1" fill="#141010"/>
<rect x="589.9" y="752.6" width="5.7" height="3.9" fill="#e46a52"/>
<rect x="591.4" y="753.8" width="2.9" height="1.4" fill="#f4b0a0" opacity="0.6"/>
<polygon points="584.4,751.9 586.0,751.9 584.9,758.9 583.3,758.9" fill="#b4b0ac" opacity="0.55"/>
<rect x="605.0" y="752.3" width="7.6" height="5.3" fill="#141010"/>
<rect x="605.8" y="752.9" width="5.8" height="4.1" fill="#e46a52"/>
<rect x="607.3" y="754.1" width="2.9" height="1.4" fill="#f4b0a0" opacity="0.6"/>
<polygon points="600.2,752.1 601.8,752.1 600.7,759.4 599.1,759.4" fill="#b4b0ac" opacity="0.55"/>
<rect x="621.1" y="752.5" width="7.7" height="5.4" fill="#141010"/>
<rect x="622.0" y="753.1" width="5.9" height="4.2" fill="#e46a52"/>
<rect x="623.4" y="754.4" width="2.9" height="1.5" fill="#f4b0a0" opacity="0.6"/>
<polygon points="616.2,752.3 617.9,752.3 616.7,759.9 615.1,759.9" fill="#b4b0ac" opacity="0.55"/>
<rect x="637.5" y="752.7" width="7.8" height="5.6" fill="#141010"/>
<rect x="638.4" y="753.4" width="6.0" height="4.3" fill="#e46a52"/>
<rect x="639.8" y="754.7" width="3.0" height="1.5" fill="#f4b0a0" opacity="0.6"/>
<polygon points="632.5,752.5 634.2,752.5 633.0,760.3 631.4,760.3" fill="#b4b0ac" opacity="0.55"/>
<rect x="654.1" y="752.9" width="7.9" height="5.8" fill="#141010"/>
<rect x="655.0" y="753.6" width="6.1" height="4.5" fill="#e46a52"/>
<rect x="656.5" y="754.9" width="3.0" height="1.6" fill="#f4b0a0" opacity="0.6"/>
<polygon points="649.1,752.7 650.8,752.7 649.6,760.8 647.9,760.8" fill="#b4b0ac" opacity="0.55"/>
<rect x="671.0" y="753.2" width="8.0" height="6.0" fill="#141010"/>
<rect x="671.9" y="753.9" width="6.2" height="4.6" fill="#e46a52"/>
<rect x="673.4" y="755.2" width="3.1" height="1.6" fill="#f4b0a0" opacity="0.6"/>
<polygon points="665.9,753.0 667.6,753.0 666.4,761.3 664.7,761.3" fill="#b4b0ac" opacity="0.55"/>
<rect x="688.1" y="753.4" width="8.2" height="6.2" fill="#141010"/>
<rect x="689.0" y="754.1" width="6.3" height="4.7" fill="#e46a52"/>
<rect x="690.6" y="755.5" width="3.1" height="1.7" fill="#f4b0a0" opacity="0.6"/>
<polygon points="682.9,753.2 684.7,753.2 683.5,761.8 681.7,761.8" fill="#b4b0ac" opacity="0.55"/>
<rect x="705.5" y="753.7" width="8.3" height="6.4" fill="#141010"/>
<rect x="706.5" y="754.4" width="6.4" height="4.9" fill="#e46a52"/>
<rect x="708.0" y="755.9" width="3.2" height="1.7" fill="#f4b0a0" opacity="0.6"/>
<polygon points="700.3,753.4 702.0,753.4 700.8,762.3 699.0,762.3" fill="#b4b0ac" opacity="0.55"/>
<rect x="723.2" y="753.9" width="8.4" height="6.5" fill="#141010"/>
<rect x="724.1" y="754.7" width="6.5" height="5.0" fill="#e46a52"/>
<rect x="725.8" y="756.2" width="3.2" height="1.8" fill="#f4b0a0" opacity="0.6"/>
<polygon points="717.9,753.7 719.7,753.7 718.4,762.8 716.6,762.8" fill="#b4b0ac" opacity="0.55"/>
<rect x="741.1" y="754.2" width="8.5" height="6.7" fill="#141010"/>
<rect x="742.1" y="754.9" width="6.6" height="5.2" fill="#e46a52"/>
<rect x="743.7" y="756.5" width="3.3" height="1.8" fill="#f4b0a0" opacity="0.6"/>
<polygon points="735.7,753.9 737.5,753.9 736.3,763.3 734.4,763.3" fill="#b4b0ac" opacity="0.55"/>
<polygon points="557,761.1 751,767.0 751,780.9 557,771.4" fill="url(#macroG)"/>
<polygon points="557,761.1 751,767.0 751,768.2 557,762.3" fill="#a09c98" opacity="0.6"/>
<rect x="562.0" y="762.6" width="7.6" height="5.4" fill="#141010"/>
<rect x="562.8" y="763.2" width="5.9" height="4.2" fill="#e46a52"/>
<rect x="564.3" y="764.5" width="2.9" height="1.5" fill="#f4b0a0" opacity="0.6"/>
<polygon points="557.1,762.4 558.8,762.4 557.6,769.9 556.0,769.9" fill="#b4b0ac" opacity="0.55"/>
<rect x="578.3" y="763.2" width="7.8" height="5.6" fill="#141010"/>
<rect x="579.2" y="763.8" width="6.0" height="4.3" fill="#e46a52"/>
<rect x="580.6" y="765.1" width="3.0" height="1.5" fill="#f4b0a0" opacity="0.6"/>
<polygon points="573.4,763.0 575.0,763.0 573.9,770.7 572.2,770.7" fill="#b4b0ac" opacity="0.55"/>
<rect x="594.8" y="763.7" width="7.9" height="5.7" fill="#141010"/>
<rect x="595.7" y="764.4" width="6.1" height="4.4" fill="#e46a52"/>
<rect x="597.2" y="765.7" width="3.0" height="1.5" fill="#f4b0a0" opacity="0.6"/>
<polygon points="589.8,763.5 591.5,763.5 590.3,771.5 588.7,771.5" fill="#b4b0ac" opacity="0.55"/>
<rect x="611.6" y="764.3" width="8.0" height="5.9" fill="#141010"/>
<rect x="612.5" y="764.9" width="6.1" height="4.5" fill="#e46a52"/>
<rect x="614.1" y="766.3" width="3.1" height="1.6" fill="#f4b0a0" opacity="0.6"/>
<polygon points="606.6,764.1 608.3,764.1 607.1,772.2 605.4,772.2" fill="#b4b0ac" opacity="0.55"/>
<rect x="628.7" y="764.8" width="8.1" height="6.1" fill="#141010"/>
<rect x="629.6" y="765.5" width="6.2" height="4.7" fill="#e46a52"/>
<rect x="631.2" y="766.9" width="3.1" height="1.6" fill="#f4b0a0" opacity="0.6"/>
<polygon points="623.6,764.6 625.3,764.6 624.1,773.0 622.3,773.0" fill="#b4b0ac" opacity="0.55"/>
<rect x="646.0" y="765.4" width="8.2" height="6.2" fill="#141010"/>
<rect x="647.0" y="766.1" width="6.3" height="4.8" fill="#e46a52"/>
<rect x="648.6" y="767.6" width="3.2" height="1.7" fill="#f4b0a0" opacity="0.6"/>
<polygon points="640.8,765.2 642.6,765.2 641.3,773.8 639.6,773.8" fill="#b4b0ac" opacity="0.55"/>
<rect x="663.6" y="766.0" width="8.4" height="6.4" fill="#141010"/>
<rect x="664.6" y="766.7" width="6.4" height="4.9" fill="#e46a52"/>
<rect x="666.2" y="768.2" width="3.2" height="1.7" fill="#f4b0a0" opacity="0.6"/>
<polygon points="658.3,765.8 660.1,765.8 658.9,774.6 657.1,774.6" fill="#b4b0ac" opacity="0.55"/>
<rect x="681.5" y="766.6" width="8.5" height="6.6" fill="#141010"/>
<rect x="682.5" y="767.3" width="6.5" height="5.1" fill="#e46a52"/>
<rect x="684.1" y="768.8" width="3.3" height="1.8" fill="#f4b0a0" opacity="0.6"/>
<polygon points="676.1,766.4 677.9,766.4 676.7,775.5 674.8,775.5" fill="#b4b0ac" opacity="0.55"/>
<rect x="699.6" y="767.2" width="8.6" height="6.7" fill="#141010"/>
<rect x="700.6" y="768.0" width="6.6" height="5.2" fill="#e46a52"/>
<rect x="702.3" y="769.5" width="3.3" height="1.8" fill="#f4b0a0" opacity="0.6"/>
<polygon points="694.2,766.9 696.0,766.9 694.7,776.3 692.9,776.3" fill="#b4b0ac" opacity="0.55"/>
<rect x="718.1" y="767.8" width="8.8" height="6.9" fill="#141010"/>
<rect x="719.1" y="768.6" width="6.7" height="5.3" fill="#e46a52"/>
<rect x="720.8" y="770.2" width="3.4" height="1.9" fill="#f4b0a0" opacity="0.6"/>
<polygon points="712.5,767.5 714.4,767.5 713.1,777.2 711.2,777.2" fill="#b4b0ac" opacity="0.55"/>
<rect x="736.8" y="768.4" width="8.9" height="7.1" fill="#141010"/>
<rect x="737.8" y="769.2" width="6.8" height="5.5" fill="#e46a52"/>
<rect x="739.5" y="770.9" width="3.4" height="1.9" fill="#f4b0a0" opacity="0.6"/>
<polygon points="731.1,768.2 733.0,768.2 731.7,778.0 729.8,778.0" fill="#b4b0ac" opacity="0.55"/>
<polygon points="557,772.3 751,782.6 751,798.0 557,784.0" fill="url(#macroG)"/>
<polygon points="557,772.3 751,782.6 751,783.8 557,773.5" fill="#a09c98" opacity="0.6"/>
<rect x="548.8" y="773.4" width="7.9" height="6.0" fill="#141010"/>
<rect x="549.7" y="774.1" width="6.1" height="4.6" fill="#e46a52"/>
<rect x="551.3" y="775.4" width="3.1" height="1.6" fill="#f4b0a0" opacity="0.6"/>
<polygon points="543.8,773.2 545.5,773.2 544.3,781.5 542.6,781.5" fill="#b4b0ac" opacity="0.55"/>
<rect x="565.8" y="774.3" width="8.1" height="6.2" fill="#141010"/>
<rect x="566.7" y="775.0" width="6.2" height="4.8" fill="#e46a52"/>
<rect x="568.2" y="776.4" width="3.1" height="1.7" fill="#f4b0a0" opacity="0.6"/>
<polygon points="560.7,774.1 562.4,774.1 561.2,782.7 559.4,782.7" fill="#b4b0ac" opacity="0.55"/>
<rect x="583.0" y="775.3" width="8.2" height="6.4" fill="#141010"/>
<rect x="583.9" y="776.0" width="6.3" height="4.9" fill="#e46a52"/>
<rect x="585.5" y="777.5" width="3.1" height="1.7" fill="#f4b0a0" opacity="0.6"/>
<polygon points="577.8,775.0 579.5,775.0 578.3,783.9 576.6,783.9" fill="#b4b0ac" opacity="0.55"/>
<rect x="600.4" y="776.2" width="8.3" height="6.5" fill="#141010"/>
<rect x="601.4" y="777.0" width="6.4" height="5.0" fill="#e46a52"/>
<rect x="603.0" y="778.5" width="3.2" height="1.8" fill="#f4b0a0" opacity="0.6"/>
<polygon points="595.2,776.0 596.9,776.0 595.7,785.1 593.9,785.1" fill="#b4b0ac" opacity="0.55"/>
<rect x="618.2" y="777.2" width="8.4" height="6.7" fill="#141010"/>
<rect x="619.1" y="778.0" width="6.5" height="5.2" fill="#e46a52"/>
<rect x="620.8" y="779.6" width="3.2" height="1.8" fill="#f4b0a0" opacity="0.6"/>
<polygon points="612.8,777.0 614.6,777.0 613.4,786.3 611.6,786.3" fill="#b4b0ac" opacity="0.55"/>
<rect x="636.2" y="778.2" width="8.6" height="6.9" fill="#141010"/>
<rect x="637.2" y="779.0" width="6.6" height="5.3" fill="#e46a52"/>
<rect x="638.8" y="780.6" width="3.3" height="1.9" fill="#f4b0a0" opacity="0.6"/>
<polygon points="630.8,778.0 632.6,778.0 631.3,787.6 629.5,787.6" fill="#b4b0ac" opacity="0.55"/>
<rect x="654.5" y="779.3" width="8.7" height="7.1" fill="#141010"/>
<rect x="655.5" y="780.1" width="6.7" height="5.4" fill="#e46a52"/>
<rect x="657.1" y="781.7" width="3.3" height="1.9" fill="#f4b0a0" opacity="0.6"/>
<polygon points="649.0,779.0 650.8,779.0 649.5,788.8 647.7,788.8" fill="#b4b0ac" opacity="0.55"/>
<rect x="673.0" y="780.3" width="8.8" height="7.3" fill="#141010"/>
<rect x="674.1" y="781.1" width="6.8" height="5.6" fill="#e46a52"/>
<rect x="675.8" y="782.8" width="3.4" height="2.0" fill="#f4b0a0" opacity="0.6"/>
<polygon points="667.4,780.0 669.3,780.0 668.0,790.1 666.1,790.1" fill="#b4b0ac" opacity="0.55"/>
<rect x="691.9" y="781.3" width="9.0" height="7.4" fill="#141010"/>
<rect x="692.9" y="782.2" width="6.9" height="5.7" fill="#e46a52"/>
<rect x="694.7" y="783.9" width="3.5" height="2.0" fill="#f4b0a0" opacity="0.6"/>
<polygon points="686.2,781.1 688.1,781.1 686.8,791.4 684.9,791.4" fill="#b4b0ac" opacity="0.55"/>
<rect x="711.1" y="782.4" width="9.1" height="7.6" fill="#141010"/>
<rect x="712.1" y="783.3" width="7.0" height="5.9" fill="#e46a52"/>
<rect x="713.9" y="785.1" width="3.5" height="2.1" fill="#f4b0a0" opacity="0.6"/>
<polygon points="705.3,782.2 707.2,782.2 705.9,792.7 703.9,792.7" fill="#b4b0ac" opacity="0.55"/>
<rect x="730.5" y="783.5" width="9.3" height="7.8" fill="#141010"/>
<rect x="731.6" y="784.4" width="7.1" height="6.0" fill="#e46a52"/>
<rect x="733.3" y="786.2" width="3.6" height="2.1" fill="#f4b0a0" opacity="0.6"/>
<polygon points="724.6,783.2 726.6,783.2 725.2,794.1 723.3,794.1" fill="#b4b0ac" opacity="0.55"/>
<rect x="750.2" y="784.6" width="9.4" height="8.0" fill="#141010"/>
<rect x="751.3" y="785.5" width="7.2" height="6.2" fill="#e46a52"/>
<rect x="753.1" y="787.4" width="3.6" height="2.2" fill="#f4b0a0" opacity="0.6"/>
<polygon points="744.3,784.3 746.3,784.3 744.9,795.5 742.9,795.5" fill="#b4b0ac" opacity="0.55"/>
<polygon points="557,785.9 751,800.1 751,817.0 557,799.4" fill="url(#macroG)"/>
<polygon points="557,785.9 751,800.1 751,801.3 557,787.1" fill="#a09c98" opacity="0.6"/>
<rect x="551.9" y="787.3" width="8.4" height="7.0" fill="#141010"/>
<rect x="552.8" y="788.2" width="6.4" height="5.4" fill="#e46a52"/>
<rect x="554.4" y="789.8" width="3.2" height="1.9" fill="#f4b0a0" opacity="0.6"/>
<polygon points="546.6,787.1 548.4,787.1 547.1,796.8 545.3,796.8" fill="#b4b0ac" opacity="0.55"/>
<rect x="569.7" y="788.7" width="8.5" height="7.1" fill="#141010"/>
<rect x="570.7" y="789.5" width="6.5" height="5.5" fill="#e46a52"/>
<rect x="572.3" y="791.2" width="3.3" height="1.9" fill="#f4b0a0" opacity="0.6"/>
<polygon points="564.3,788.5 566.1,788.5 564.9,798.3 563.1,798.3" fill="#b4b0ac" opacity="0.55"/>
<rect x="587.8" y="790.1" width="8.6" height="7.3" fill="#141010"/>
<rect x="588.8" y="790.9" width="6.6" height="5.6" fill="#e46a52"/>
<rect x="590.5" y="792.6" width="3.3" height="2.0" fill="#f4b0a0" opacity="0.6"/>
<polygon points="582.4,789.8 584.2,789.8 582.9,799.9 581.1,799.9" fill="#b4b0ac" opacity="0.55"/>
<rect x="606.2" y="791.4" width="8.7" height="7.5" fill="#141010"/>
<rect x="607.2" y="792.3" width="6.7" height="5.7" fill="#e46a52"/>
<rect x="608.9" y="794.0" width="3.4" height="2.0" fill="#f4b0a0" opacity="0.6"/>
<polygon points="600.7,791.2 602.5,791.2 601.2,801.5 599.4,801.5" fill="#b4b0ac" opacity="0.55"/>
<rect x="624.9" y="792.9" width="8.9" height="7.6" fill="#141010"/>
<rect x="625.9" y="793.7" width="6.8" height="5.9" fill="#e46a52"/>
<rect x="627.6" y="795.5" width="3.4" height="2.1" fill="#f4b0a0" opacity="0.6"/>
<polygon points="619.2,792.6 621.1,792.6 619.8,803.2 617.9,803.2" fill="#b4b0ac" opacity="0.55"/>
<rect x="643.8" y="794.3" width="9.0" height="7.8" fill="#141010"/>
<rect x="644.9" y="795.2" width="6.9" height="6.0" fill="#e46a52"/>
<rect x="646.6" y="797.0" width="3.5" height="2.1" fill="#f4b0a0" opacity="0.6"/>
<polygon points="638.1,794.0 640.0,794.0 638.7,804.9 636.8,804.9" fill="#b4b0ac" opacity="0.55"/>
<rect x="663.1" y="795.7" width="9.2" height="8.0" fill="#141010"/>
<rect x="664.1" y="796.7" width="7.0" height="6.1" fill="#e46a52"/>
<rect x="665.9" y="798.5" width="3.5" height="2.1" fill="#f4b0a0" opacity="0.6"/>
<polygon points="657.3,795.5 659.2,795.5 657.9,806.6 655.9,806.6" fill="#b4b0ac" opacity="0.55"/>
<rect x="682.6" y="797.2" width="9.3" height="8.2" fill="#141010"/>
<rect x="683.7" y="798.2" width="7.2" height="6.3" fill="#e46a52"/>
<rect x="685.5" y="800.0" width="3.6" height="2.2" fill="#f4b0a0" opacity="0.6"/>
<polygon points="676.8,796.9 678.7,796.9 677.3,808.3 675.4,808.3" fill="#b4b0ac" opacity="0.55"/>
<rect x="702.5" y="798.7" width="9.4" height="8.3" fill="#141010"/>
<rect x="703.6" y="799.7" width="7.3" height="6.4" fill="#e46a52"/>
<rect x="705.4" y="801.6" width="3.6" height="2.2" fill="#f4b0a0" opacity="0.6"/>
<polygon points="696.5,798.4 698.5,798.4 697.1,810.0 695.1,810.0" fill="#b4b0ac" opacity="0.55"/>
<rect x="722.6" y="800.2" width="9.6" height="8.5" fill="#141010"/>
<rect x="723.8" y="801.2" width="7.4" height="6.6" fill="#e46a52"/>
<rect x="725.6" y="803.2" width="3.7" height="2.3" fill="#f4b0a0" opacity="0.6"/>
<polygon points="716.6,799.9 718.6,799.9 717.2,811.8 715.1,811.8" fill="#b4b0ac" opacity="0.55"/>
<rect x="743.1" y="801.8" width="9.7" height="8.7" fill="#141010"/>
<rect x="744.2" y="802.8" width="7.5" height="6.7" fill="#e46a52"/>
<rect x="746.1" y="804.8" width="3.7" height="2.3" fill="#f4b0a0" opacity="0.6"/>
<polygon points="737.0,801.5 739.0,801.5 737.6,813.6 735.5,813.6" fill="#b4b0ac" opacity="0.55"/>
<polygon points="557,800.9 751,819.1 751,837.1 557,815.8" fill="url(#macroG)"/>
<polygon points="557,800.9 751,819.1 751,820.3 557,802.1" fill="#a09c98" opacity="0.6"/>
<rect x="554.9" y="802.7" width="8.8" height="7.7" fill="#141010"/>
<rect x="555.9" y="803.6" width="6.7" height="5.9" fill="#e46a52"/>
<rect x="557.6" y="805.4" width="3.4" height="2.1" fill="#f4b0a0" opacity="0.6"/>
<polygon points="549.4,802.5 551.3,802.5 549.9,813.2 548.1,813.2" fill="#b4b0ac" opacity="0.55"/>
<rect x="573.6" y="804.5" width="8.9" height="7.9" fill="#141010"/>
<rect x="574.7" y="805.4" width="6.9" height="6.1" fill="#e46a52"/>
<rect x="576.4" y="807.3" width="3.4" height="2.1" fill="#f4b0a0" opacity="0.6"/>
<polygon points="568.0,804.3 569.9,804.3 568.6,815.2 566.7,815.2" fill="#b4b0ac" opacity="0.55"/>
<rect x="592.7" y="806.3" width="9.0" height="8.0" fill="#141010"/>
<rect x="593.7" y="807.3" width="7.0" height="6.2" fill="#e46a52"/>
<rect x="595.4" y="809.1" width="3.5" height="2.2" fill="#f4b0a0" opacity="0.6"/>
<polygon points="586.9,806.1 588.9,806.1 587.5,817.2 585.6,817.2" fill="#b4b0ac" opacity="0.55"/>
<rect x="612.0" y="808.2" width="9.2" height="8.2" fill="#141010"/>
<rect x="613.0" y="809.1" width="7.1" height="6.3" fill="#e46a52"/>
<rect x="614.8" y="811.0" width="3.5" height="2.2" fill="#f4b0a0" opacity="0.6"/>
<polygon points="606.2,807.9 608.1,807.9 606.7,819.3 604.8,819.3" fill="#b4b0ac" opacity="0.55"/>
<rect x="631.6" y="810.1" width="9.3" height="8.4" fill="#141010"/>
<rect x="632.6" y="811.0" width="7.2" height="6.4" fill="#e46a52"/>
<rect x="634.4" y="813.0" width="3.6" height="2.3" fill="#f4b0a0" opacity="0.6"/>
<polygon points="625.7,809.8 627.7,809.8 626.3,821.4 624.3,821.4" fill="#b4b0ac" opacity="0.55"/>
<rect x="651.5" y="812.0" width="9.5" height="8.5" fill="#141010"/>
<rect x="652.6" y="813.0" width="7.3" height="6.6" fill="#e46a52"/>
<rect x="654.4" y="814.9" width="3.6" height="2.3" fill="#f4b0a0" opacity="0.6"/>
<polygon points="645.5,811.7 647.5,811.7 646.1,823.6 644.1,823.6" fill="#b4b0ac" opacity="0.55"/>
<rect x="671.7" y="813.9" width="9.6" height="8.7" fill="#141010"/>
<rect x="672.8" y="814.9" width="7.4" height="6.7" fill="#e46a52"/>
<rect x="674.7" y="816.9" width="3.7" height="2.3" fill="#f4b0a0" opacity="0.6"/>
<polygon points="665.6,813.6 667.7,813.6 666.2,825.7 664.2,825.7" fill="#b4b0ac" opacity="0.55"/>
<rect x="692.2" y="815.9" width="9.8" height="8.9" fill="#141010"/>
<rect x="693.4" y="816.9" width="7.5" height="6.8" fill="#e46a52"/>
<rect x="695.2" y="819.0" width="3.8" height="2.4" fill="#f4b0a0" opacity="0.6"/>
<polygon points="686.1,815.6 688.1,815.6 686.7,827.9 684.6,827.9" fill="#b4b0ac" opacity="0.55"/>
<rect x="713.1" y="817.9" width="9.9" height="9.1" fill="#141010"/>
<rect x="714.2" y="818.9" width="7.6" height="7.0" fill="#e46a52"/>
<rect x="716.1" y="821.0" width="3.8" height="2.4" fill="#f4b0a0" opacity="0.6"/>
<polygon points="706.8,817.6 708.9,817.6 707.4,830.2 705.3,830.2" fill="#b4b0ac" opacity="0.55"/>
<rect x="734.2" y="819.9" width="10.1" height="9.2" fill="#141010"/>
<rect x="735.4" y="821.0" width="7.7" height="7.1" fill="#e46a52"/>
<rect x="737.3" y="823.1" width="3.9" height="2.5" fill="#f4b0a0" opacity="0.6"/>
<polygon points="727.9,819.6 730.0,819.6 728.5,832.4 726.4,832.4" fill="#b4b0ac" opacity="0.55"/>
<polygon points="557,817.8 751,839.2 751,858.7 557,834.2" fill="url(#macroG)"/>
<polygon points="557,817.8 751,839.2 751,840.4 557,819.0" fill="#a09c98" opacity="0.6"/>
<rect x="558.0" y="820.1" width="9.2" height="8.6" fill="#141010"/>
<rect x="559.0" y="821.1" width="7.1" height="6.6" fill="#e46a52"/>
<rect x="560.8" y="823.1" width="3.5" height="2.3" fill="#f4b0a0" opacity="0.6"/>
<polygon points="552.2,819.8 554.1,819.8 552.8,831.7 550.8,831.7" fill="#b4b0ac" opacity="0.55"/>
<rect x="577.6" y="822.3" width="9.3" height="8.7" fill="#141010"/>
<rect x="578.7" y="823.4" width="7.2" height="6.7" fill="#e46a52"/>
<rect x="580.5" y="825.4" width="3.6" height="2.4" fill="#f4b0a0" opacity="0.6"/>
<polygon points="571.7,822.0 573.7,822.0 572.3,834.2 570.3,834.2" fill="#b4b0ac" opacity="0.55"/>
<rect x="597.5" y="824.6" width="9.5" height="8.9" fill="#141010"/>
<rect x="598.6" y="825.6" width="7.3" height="6.8" fill="#e46a52"/>
<rect x="600.4" y="827.7" width="3.6" height="2.4" fill="#f4b0a0" opacity="0.6"/>
<polygon points="591.5,824.3 593.5,824.3 592.1,836.6 590.1,836.6" fill="#b4b0ac" opacity="0.55"/>
<rect x="617.7" y="826.9" width="9.6" height="9.1" fill="#141010"/>
<rect x="618.9" y="827.9" width="7.4" height="7.0" fill="#e46a52"/>
<rect x="620.7" y="830.0" width="3.7" height="2.4" fill="#f4b0a0" opacity="0.6"/>
<polygon points="611.7,826.5 613.7,826.5 612.3,839.1 610.2,839.1" fill="#b4b0ac" opacity="0.55"/>
<rect x="638.3" y="829.2" width="9.8" height="9.2" fill="#141010"/>
<rect x="639.4" y="830.2" width="7.5" height="7.1" fill="#e46a52"/>
<rect x="641.3" y="832.4" width="3.8" height="2.5" fill="#f4b0a0" opacity="0.6"/>
<polygon points="632.1,828.8 634.2,828.8 632.7,841.7 630.6,841.7" fill="#b4b0ac" opacity="0.55"/>
<rect x="659.1" y="831.5" width="9.9" height="9.4" fill="#141010"/>
<rect x="660.3" y="832.6" width="7.6" height="7.2" fill="#e46a52"/>
<rect x="662.2" y="834.8" width="3.8" height="2.5" fill="#f4b0a0" opacity="0.6"/>
<polygon points="652.9,831.2 655.0,831.2 653.5,844.3 651.4,844.3" fill="#b4b0ac" opacity="0.55"/>
<rect x="680.3" y="833.9" width="10.1" height="9.6" fill="#141010"/>
<rect x="681.5" y="835.0" width="7.7" height="7.4" fill="#e46a52"/>
<rect x="683.4" y="837.2" width="3.9" height="2.6" fill="#f4b0a0" opacity="0.6"/>
<polygon points="673.9,833.6 676.1,833.6 674.6,846.9 672.4,846.9" fill="#b4b0ac" opacity="0.55"/>
<rect x="701.8" y="836.3" width="10.2" height="9.8" fill="#141010"/>
<rect x="703.0" y="837.4" width="7.9" height="7.5" fill="#e46a52"/>
<rect x="705.0" y="839.7" width="3.9" height="2.6" fill="#f4b0a0" opacity="0.6"/>
<polygon points="695.4,836.0 697.5,836.0 696.0,849.5 693.8,849.5" fill="#b4b0ac" opacity="0.55"/>
<rect x="723.7" y="838.8" width="10.4" height="10.0" fill="#141010"/>
<rect x="724.9" y="839.9" width="8.0" height="7.7" fill="#e46a52"/>
<rect x="726.9" y="842.2" width="4.0" height="2.7" fill="#f4b0a0" opacity="0.6"/>
<polygon points="717.1,838.4 719.3,838.4 717.8,852.2 715.5,852.2" fill="#b4b0ac" opacity="0.55"/>
<rect x="745.8" y="841.2" width="10.5" height="10.1" fill="#141010"/>
<rect x="747.1" y="842.4" width="8.1" height="7.8" fill="#e46a52"/>
<rect x="749.1" y="844.8" width="4.1" height="2.7" fill="#f4b0a0" opacity="0.6"/>
<polygon points="739.2,840.9 741.4,840.9 739.8,855.0 737.6,855.0" fill="#b4b0ac" opacity="0.55"/>
</g>
<g stroke="#1a5fbd" stroke-width="2" fill="none">
<path d="M228 181 H351.8 V209"/>
<path d="M220.6 284.5 H296 V268"/>
<path d="M277 344.8 H346"/>
<path d="M548.9 182.7 H425.7 V209"/>
<path d="M573.6 284.7 H496 V271"/>
<path d="M573.6 322.8 H425.7 V262"/>
<path d="M208 608.7 H316 V573.5"/>
<path d="M549.7 601 H440 V564.5"/>
<path d="M404 897.8 H459.6"/>
</g>
<g fill="#1a5fbd">
<circle cx="351.8" cy="209" r="4"/><circle cx="296" cy="267.7" r="4"/><circle cx="346" cy="344.8" r="4"/>
<circle cx="425.7" cy="209" r="4"/><circle cx="496" cy="271" r="4"/><circle cx="425.7" cy="262" r="4"/>
<circle cx="316" cy="573.5" r="4"/><circle cx="440" cy="564.5" r="4"/><circle cx="404" cy="897.8" r="4"/>
</g>
</svg>
<!-- title -->
<div class="title" style="position:absolute;left:276px;top:29.5px;font-size:53px;line-height:60px;font-weight:bold;color:#fff;letter-spacing:9.4px;-webkit-text-stroke:1.6px #fff;white-space:nowrap;">设备结构</div>
<!-- box label -->
<div style="position:absolute;left:358.4px;top:357.7px;width:83.2px;text-align:center;font-size:10px;line-height:16px;color:#fff;font-weight:bold;letter-spacing:0.2px;white-space:nowrap;">扬尘在线监测仪</div>
<!-- main LED -->
<div id="ledscr" style="position:absolute;left:255.8px;top:424px;width:282.7px;height:143.7px;overflow:hidden;background-color:#8a0b17;background-image:radial-gradient(circle at 1.5px 1.5px,#b8222e 0.8px,rgba(184,34,46,0) 1.3px);background-size:3px 3px;">
  <div class="led" style="left:29.5px;top:3.5px;font-size:34px;line-height:38px;letter-spacing:4.4px;">扬尘监测系统</div>
  <div class="led cj" style="left:34.5px;top:44px;">温</div>
  <div class="led cj" style="left:77px;top:44px;">度</div>
  <div class="led cj" style="left:34.5px;top:76px;">湿</div>
  <div class="led cj" style="left:77px;top:76px;">度</div>
  <div class="led mo" style="left:105px;top:45px;">:</div>
  <div class="led mo" style="left:105px;top:78px;">:</div>
  <div class="led mo" style="left:105px;top:109px;">:</div>
  <div class="led mo" style="left:148px;top:45.5px;letter-spacing:1.4px;">20.5℃</div>
  <div class="led mo" style="left:148px;top:78px;letter-spacing:0.5px;">45.5%RH</div>
  <div class="led mo" style="left:34.5px;top:109px;letter-spacing:1px;">PM10</div>
  <div class="led mo" style="left:148px;top:109px;letter-spacing:1.2px;">60ug/m3</div>
  <div style="position:absolute;left:0;top:0;right:0;bottom:0;background-image:linear-gradient(90deg,rgba(105,5,14,0.3) 1px,transparent 1px),linear-gradient(0deg,rgba(105,5,14,0.3) 1px,transparent 1px);background-size:3px 3px;"></div>
</div>
<svg style="position:absolute;left:0;top:0" width="790" height="1092"><g fill="#1a5fbd"><circle cx="440" cy="564.5" r="4"/><circle cx="316" cy="573.5" r="4"/></g></svg>

<div class="t" style="left:82.8px;top:163.6px;">报警灯<span class="p">(</span>选配<span class="p">)</span></div>
<div class="t" style="left:94.3px;top:269.5px;">风向传感器</div>
<div class="t" style="left:201.8px;top:331.5px;">电控箱</div>
<div class="t b" style="left:129.1px;top:358.0px;">内含除湿设备</div>
<div class="t b" style="left:72.1px;top:385.2px;font-size:23px;letter-spacing:0.9px;">PM2.5/PM10/TSP</div>
<div class="t" style="left:557.9px;top:169.2px;">百叶盒</div>
<div class="t b" style="left:556.4px;top:195.0px;">内含温度<span class="p">/</span>湿度</div>
<div class="t b" style="left:556.0px;top:218.4px;">噪声<span class="p">/</span>大气压力</div>
<div class="t" style="left:580.8px;top:269.4px;">风速传感器</div>
<div class="t" style="left:580.0px;top:308.1px;">噪声传感器</div>
<div class="t b" style="left:578.5px;top:342.5px;">严格按照国家级</div>
<div class="t b" style="left:578.5px;top:371.0px;">计量标准要求设计</div>
<div class="t" style="left:84.6px;top:595.6px;"><span class="p" style="letter-spacing:2px">LED</span>显示屏</div>
<div class="t b" style="left:85.6px;top:629.9px;">屏板由上市公司供货</div>
<div class="t b" style="left:81.9px;top:659.8px;">（强力巨彩或匡通）</div>
<div class="t b" style="left:85.6px;top:685.9px;">寿命大于<span class="p">2</span>万小时</div>
<div class="t" style="left:557.7px;top:589.5px;">灯 珠</div>
<div class="t b" style="left:558.0px;top:620.4px;">灯珠带有聚光罩</div>
<div class="t b" style="left:557.0px;top:648.0px;">亮度增强<span class="p">60%</span></div>
<div class="t b" style="left:558.0px;top:676.3px;">寿命大于<span class="p">2</span>万小时</div>
<div class="t" style="left:476.1px;top:886.0px;">防腐立杆</div>
<div class="t b" style="left:152.7px;top:727.8px;font-size:20px;letter-spacing:0.6px;-webkit-text-stroke:0.4px #1f60b8;">102cm</div>
<div class="t b" style="left:22.6px;top:814.4px;font-size:20px;letter-spacing:0.6px;-webkit-text-stroke:0.4px #1f60b8;">54cm</div>
</body></html>
